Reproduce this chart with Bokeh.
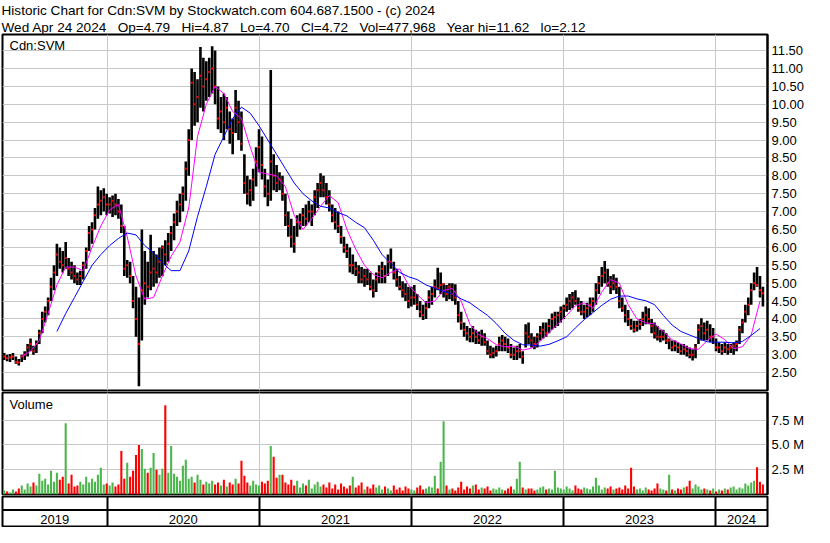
import pandas as pd
from bokeh.plotting import figure
from bokeh.models import Range1d, FixedTicker, Label, Title, Span, ColumnDataSource, NumeralTickFormatter
from bokeh.layouts import column
from bokeh.embed import file_html
from bokeh.resources import INLINE
from bokeh.core.properties import value

FONT = "Liberation Sans"

# ---------------- data (weekly bars) ----------------
first_bar = "2019-04-29"
last_bar = "2024-04-24"
view_start = "2019-04-25"
view_end = "2024-05-05"

high = [3.05, 3.0, 3.02, 3.05, 2.95, 2.88, 3.0, 3.1, 3.3, 3.45,
        3.25, 3.4, 3.7, 4.2, 4.35, 4.6, 5.15, 5.5, 6.1, 6.0,
        5.9, 6.15, 5.7, 5.6, 5.5, 5.3, 5.35, 5.6, 6.0, 6.6,
        6.7, 7.1, 7.7, 7.6, 7.65, 7.5, 7.4, 7.45, 7.5, 7.35,
        7.2, 6.6, 5.65, 5.6, 5.2, 4.9, 4.6, 6.5, 5.9, 5.6,
        6.35, 5.9, 5.8, 6.0, 6.05, 6.2, 6.4, 6.6, 6.95, 7.3,
        7.5, 7.7, 8.4, 9.3, 11.0, 10.9, 10.7, 11.6, 11.3, 11.2,
        11.3, 11.62, 11.5, 10.5, 10.2, 10.3, 10.2, 9.8, 9.6, 10.4,
        10.1, 9.8, 8.6, 8.0, 7.9, 8.2, 8.8, 9.3, 9.1, 8.2,
        7.9, 10.96, 8.6, 8.3, 8.1, 8.0, 7.5, 7.0, 6.8, 6.6,
        6.9, 6.95, 7.1, 7.2, 7.3, 7.2, 7.6, 7.8, 8.07, 8.0,
        7.8, 7.6, 7.2, 7.1, 7.0, 6.6, 6.3, 6.1, 6.0, 5.8,
        5.6, 5.5, 5.45, 5.4, 5.4, 5.3, 5.1, 5.3, 5.5, 5.6,
        5.5, 5.8, 5.97, 5.6, 5.4, 5.2, 5.05, 5.0, 4.9, 4.9,
        4.95, 4.7, 4.5, 4.4, 4.5, 4.8, 4.9, 5.1, 5.43, 5.3,
        5.0, 4.95, 5.0, 5.0, 4.97, 4.5, 4.2, 3.9, 3.8, 3.75,
        3.8, 3.7, 3.65, 3.7, 3.6, 3.4, 3.25, 3.2, 3.25, 3.5,
        3.55, 3.5, 3.45, 3.3, 3.2, 3.25, 3.3, 3.1, 3.85, 3.9,
        3.6, 3.5, 3.6, 3.8, 3.9, 3.9, 4.0, 4.15, 4.2, 4.2,
        4.35, 4.4, 4.6, 4.7, 4.75, 4.8, 4.6, 4.5, 4.4, 4.45,
        4.6, 4.6, 5.0, 5.2, 5.45, 5.62, 5.4, 5.2, 5.25, 5.15,
        4.9, 4.6, 4.4, 4.25, 4.0, 3.95, 3.95, 4.0, 4.2, 4.35,
        4.3, 4.0, 3.9, 3.8, 3.7, 3.7, 3.6, 3.45, 3.4, 3.4,
        3.35, 3.3, 3.3, 3.25, 3.2, 3.15, 3.3, 3.85, 4.02, 3.9,
        3.95, 3.85, 3.75, 3.45, 3.35, 3.3, 3.35, 3.3, 3.3, 3.35,
        3.4, 3.8, 4.0, 4.4, 4.6, 5.0, 5.3, 5.45, 5.2, 4.9]

low = [2.85, 2.82, 2.8, 2.85, 2.75, 2.7, 2.8, 2.85, 2.95, 3.1,
       3.0, 3.05, 3.3, 3.6, 3.9, 4.1, 4.5, 4.8, 5.2, 5.4,
       5.3, 5.4, 5.2, 5.1, 5.0, 4.95, 4.95, 5.1, 5.4, 5.9,
       6.1, 6.5, 6.8, 6.9, 7.0, 6.9, 6.95, 6.85, 6.9, 6.8,
       6.4, 5.2, 5.15, 5.0, 4.3, 3.5, 2.12, 3.4, 4.4, 4.6,
       4.8, 4.9, 5.0, 5.15, 5.2, 5.5, 5.6, 5.9, 6.2, 6.6,
       6.7, 7.0, 7.3, 8.0, 9.0, 9.4, 9.5, 9.9, 9.8, 10.1,
       10.2, 10.3, 10.0, 9.3, 9.2, 9.0, 9.3, 8.9, 8.6, 9.2,
       9.0, 8.7, 7.5, 7.2, 7.15, 7.3, 7.7, 8.1, 7.9, 7.4,
       7.15, 7.3, 7.6, 7.55, 7.6, 7.3, 6.6, 6.3, 6.0, 5.85,
       6.3, 6.5, 6.6, 6.6, 6.7, 6.6, 6.9, 7.1, 7.4, 7.4,
       7.2, 7.0, 6.7, 6.5, 6.4, 6.1, 5.85, 5.7, 5.3, 5.25,
       5.2, 5.0, 5.0, 4.9, 4.95, 4.8, 4.6, 4.75, 5.0, 5.0,
       5.0, 5.2, 5.4, 5.1, 4.9, 4.8, 4.6, 4.5, 4.3, 4.35,
       4.4, 4.25, 4.05, 3.97, 4.0, 4.3, 4.4, 4.6, 4.8, 4.7,
       4.6, 4.5, 4.55, 4.5, 4.4, 3.9, 3.7, 3.5, 3.4, 3.35,
       3.35, 3.3, 3.3, 3.25, 3.25, 3.0, 2.9, 2.9, 2.95, 3.1,
       3.1, 3.1, 3.05, 2.9, 2.85, 2.85, 2.9, 2.75, 3.2, 3.3,
       3.2, 3.15, 3.2, 3.4, 3.45, 3.5, 3.6, 3.7, 3.75, 3.8,
       3.9, 4.0, 4.2, 4.25, 4.3, 4.4, 4.2, 4.1, 4.0, 4.05,
       4.1, 4.2, 4.4, 4.7, 4.9, 5.0, 4.9, 4.7, 4.8, 4.7,
       4.3, 4.2, 3.9, 3.8, 3.7, 3.62, 3.65, 3.7, 3.8, 3.85,
       3.85, 3.6, 3.45, 3.4, 3.35, 3.4, 3.3, 3.15, 3.1, 3.1,
       3.05, 3.0, 3.0, 2.95, 2.9, 2.84, 2.9, 3.3, 3.4, 3.4,
       3.4, 3.35, 3.3, 3.1, 3.05, 3.0, 3.05, 3.0, 3.05, 3.0,
       3.1, 3.3, 3.6, 3.9, 4.1, 4.4, 4.8, 4.9, 4.6, 4.35]

close = [2.95, 2.9, 2.92, 2.95, 2.8, 2.78, 2.95, 3.0, 3.2, 3.3,
         3.1, 3.3, 3.6, 4.0, 4.2, 4.5, 4.9, 5.3, 5.8, 5.6,
         5.5, 5.7, 5.4, 5.3, 5.2, 5.1, 5.2, 5.5, 5.9, 6.4,
         6.5, 6.9, 7.2, 7.3, 7.4, 7.2, 7.2, 7.3, 7.2, 7.0,
         6.6, 5.4, 5.5, 5.2, 4.5, 4.0, 3.3, 4.8, 5.0, 4.9,
         5.3, 5.4, 5.3, 5.6, 6.0, 5.8, 6.1, 6.4, 6.7, 7.0,
         7.2, 7.5, 8.2, 9.0, 10.6, 10.0, 10.2, 10.8, 10.5, 10.7,
         10.9, 11.0, 10.5, 9.6, 9.8, 9.5, 9.9, 9.3, 9.2, 9.9,
         9.5, 8.9, 7.8, 7.5, 7.6, 7.9, 8.4, 8.8, 8.3, 7.7,
         7.5, 8.4, 8.0, 7.8, 7.9, 7.5, 6.9, 6.6, 6.3, 6.1,
         6.7, 6.7, 6.9, 6.8, 7.0, 7.0, 7.4, 7.6, 7.8, 7.6,
         7.4, 7.2, 6.9, 6.7, 6.6, 6.3, 6.0, 5.9, 5.5, 5.5,
         5.4, 5.3, 5.1, 5.2, 5.1, 4.9, 4.8, 5.1, 5.3, 5.4,
         5.2, 5.6, 5.6, 5.3, 5.1, 4.9, 4.8, 4.7, 4.5, 4.6,
         4.6, 4.4, 4.2, 4.1, 4.3, 4.6, 4.7, 4.9, 4.85, 4.95,
         4.98, 4.7, 4.9, 4.7, 4.6, 4.1, 3.9, 3.7, 3.6, 3.5,
         3.6, 3.5, 3.4, 3.5, 3.35, 3.1, 3.0, 3.05, 3.1, 3.3,
         3.4, 3.3, 3.2, 3.0, 3.0, 3.1, 3.1, 2.95, 3.6, 3.5,
         3.4, 3.3, 3.5, 3.6, 3.7, 3.6, 3.8, 4.0, 4.05, 4.1,
         4.2, 4.3, 4.4, 4.5, 4.6, 4.5, 4.3, 4.2, 4.2, 4.3,
         4.4, 4.5, 4.8, 5.0, 5.2, 5.3, 5.0, 4.9, 5.0, 4.9,
         4.5, 4.3, 4.1, 4.0, 3.8, 3.7, 3.8, 3.85, 4.0, 4.1,
         4.0, 3.8, 3.6, 3.5, 3.5, 3.5, 3.4, 3.4, 3.2, 3.25,
         3.2, 3.1, 3.15, 3.1, 3.0, 3.0, 3.2, 3.7, 3.8, 3.6,
         3.7, 3.5, 3.5, 3.2, 3.2, 3.1, 3.2, 3.15, 3.2, 3.25,
         3.3, 3.7, 3.9, 4.2, 4.4, 4.8, 5.0, 4.95, 4.8, 4.72]

volume_m = [0.4, 0.3, 0.2, 0.5, 0.3, 0.6, 0.9, 0.5, 1.1, 0.8,
            1.2, 0.9, 2.1, 1.4, 1.6, 1.0, 2.4, 1.3, 2.2, 1.5,
            1.8, 7.2, 1.1, 2.0, 0.8, 0.9, 1.3, 1.0, 1.8, 1.2,
            1.6, 1.3, 2.0, 2.7, 1.0, 1.1, 0.9, 1.2, 0.8, 1.0,
            4.4, 1.6, 3.2, 1.8, 2.4, 4.0, 5.0, 4.6, 2.6, 2.2,
            2.7, 4.2, 2.5, 2.0, 2.6, 9.0, 2.2, 4.9, 2.1, 1.8,
            1.4, 2.9, 3.5, 1.6, 1.8, 1.2, 2.0, 1.5, 1.0, 1.3,
            1.1, 1.4, 1.0, 1.2, 0.9, 1.5, 0.8, 1.2, 1.0, 1.6,
            1.1, 3.4, 1.9, 1.2, 0.9, 1.4, 1.0, 0.9, 1.3, 1.1,
            1.4, 4.9, 3.8, 1.7, 2.0, 2.0, 1.2, 1.0, 1.5, 0.9,
            1.4, 0.7, 1.1, 0.9, 1.5, 0.6, 1.0, 1.3, 0.8, 1.0,
            0.7, 1.2, 0.6, 1.0, 0.5, 1.1, 0.8, 0.6, 0.9, 1.8,
            0.7, 0.9, 1.2, 0.5, 0.8, 0.6, 1.0, 0.7, 0.9, 0.5,
            0.8, 0.6, 0.4, 0.9, 0.5, 0.7, 0.4, 0.8, 0.6, 0.5,
            0.4, 0.7, 0.9, 0.5, 0.6, 0.8, 0.7, 1.9, 0.6, 3.3,
            7.4, 0.9, 0.5, 0.6, 0.4, 0.7, 1.3, 0.5, 0.8, 0.6,
            0.9, 1.0, 0.5, 0.7, 0.6, 0.8, 0.4, 0.6, 0.5, 0.7,
            0.5, 0.4, 0.6, 0.8, 0.5, 1.6, 3.3, 0.7, 0.5, 0.6,
            0.6, 0.4, 0.5, 0.7, 0.8, 0.5, 0.6, 0.5, 2.4, 0.7,
            0.6, 0.5, 0.8, 0.6, 0.4, 0.9, 0.6, 0.5, 0.7, 0.6,
            0.5, 0.8, 1.7, 0.9, 0.5, 0.7, 0.6, 0.8, 0.5, 0.6,
            0.7, 0.5, 0.9, 0.6, 2.7, 0.8, 0.5, 0.6, 0.4, 0.7,
            0.5, 0.4, 0.6, 1.1, 0.6, 0.5, 0.4, 2.0, 0.5, 0.4,
            0.6, 0.5, 0.7, 0.8, 1.4, 0.6, 1.0, 0.8, 0.5, 0.6,
            0.5, 0.4, 0.6, 0.3, 0.5, 0.4, 0.6, 0.5, 0.7, 0.8,
            0.5, 0.7, 0.6, 1.1, 0.9, 1.2, 1.4, 2.75, 1.3, 1.0]

# moving averages, one value every 3rd weekly bar
ma_short_first_bar = 6
ma_short = [2.95, 3.1, 3.4, 4.15, 4.95, 5.45, 5.45, 5.35, 6.0, 6.6,
            7.05, 7.2, 6.3, 5.2, 4.55, 4.6, 5.2, 5.75, 6.15, 7.1,
            9.1, 10.0, 10.5, 10.3, 9.8, 9.6, 8.8, 8.1, 8.05, 8.0,
            7.7, 6.9, 6.5, 6.8, 7.15, 7.45, 7.25, 6.5, 5.95, 5.5,
            5.24, 5.15, 5.3, 5.4, 4.95, 4.68, 4.45, 4.5, 4.8, 4.85,
            4.5, 3.85, 3.56, 3.45, 3.28, 3.22, 3.24, 3.13, 3.18, 3.38,
            3.62, 3.86, 4.1, 4.37, 4.45, 4.3, 4.75, 5.1, 5.0, 4.4,
            4.0, 3.89, 3.86, 3.65, 3.42, 3.3, 3.17, 3.15, 3.4, 3.58,
            3.42, 3.17, 3.22, 3.55, 4.5]
ma_long_first_bar = 18
ma_long = [3.65, 4.15, 4.6, 5.05, 5.5, 5.8, 6.05, 6.25, 6.4, 6.35,
           6.05, 5.85, 5.57, 5.35, 5.35, 5.9, 6.86, 7.7, 8.6, 9.1,
           9.6, 9.92, 9.75, 9.4, 9.0, 8.6, 8.2, 7.8, 7.5, 7.3,
           7.15, 7.1, 6.97, 6.88, 6.7, 6.55, 6.2, 5.8, 5.55, 5.3,
           5.18, 5.1, 4.95, 4.86, 4.77, 4.7, 4.56, 4.45, 4.27, 4.1,
           3.87, 3.6, 3.4, 3.28, 3.27, 3.24, 3.29, 3.39, 3.5, 3.75,
           3.98, 4.18, 4.38, 4.55, 4.64, 4.64, 4.56, 4.51, 4.4, 4.1,
           3.83, 3.65, 3.55, 3.45, 3.36, 3.35, 3.35, 3.33, 3.37, 3.54,
           3.73]

years = [2019, 2020, 2021, 2022, 2023, 2024]
price_ticks = [2.5, 3.0, 3.5, 4.0, 4.5, 5.0, 5.5, 6.0, 6.5, 7.0, 7.5, 8.0,
               8.5, 9.0, 9.5, 10.0, 10.5, 11.0, 11.5]
vol_ticks = [2.5, 5.0, 7.5]
vol_tick_labels = ["2.5 M", "5.0 M", "7.5 M"]

header_line1 = "Historic Chart for Cdn:SVM by Stockwatch.com 604.687.1500 - (c) 2024"
header_line2 = "Wed Apr 24 2024   Op=4.79   Hi=4.87   Lo=4.70   Cl=4.72   Vol=477,968   Year hi=11.62   lo=2.12"

# ---------------- derived ----------------
dates = pd.date_range(first_bar, last_bar, periods=len(close))
up = [True] + [close[i] >= close[i - 1] for i in range(1, len(close))]
vol_colors = ["#4cb64c" if u else "#ff0000" for u in up]
src = ColumnDataSource(dict(date=dates, high=high, low=low, close=close,
                            vol=volume_m, vcol=vol_colors))
short_dates = dates[ma_short_first_bar::3][:len(ma_short)]
long_dates = dates[ma_long_first_bar::3][:len(ma_long)]

xs = pd.Timestamp(view_start)
xe = pd.Timestamp(view_end)
xr = Range1d(start=xs, end=xe)
year_starts = [pd.Timestamp(f"{y}-01-01") for y in years]
year_ms = [t.value // 10**6 for t in year_starts if xs < t < xe]
label_x = []
for y in years:
    a = max(pd.Timestamp(f"{y}-01-01"), xs)
    b = min(pd.Timestamp(f"{y + 1}-01-01"), xe)
    label_x.append(a + (b - a) / 2)

W = 814
RB = 47
GRID = "#c8c8c8"
NBSP = "\u00a0"


def make_fig(height, y_range, right_axis=True, top=1, bottom=1):
    f = figure(width=W, height=height, x_axis_type="datetime", x_range=xr, y_range=y_range,
               output_backend="svg", toolbar_location=None, x_axis_location=None,
               y_axis_location="right" if right_axis else None,
               min_border_left=2, min_border_right=RB, min_border_top=top, min_border_bottom=bottom,
               background_fill_color="white", border_fill_color="white")
    f.outline_line_color = "black"
    f.outline_line_width = 2
    f.xgrid.ticker = FixedTicker(ticks=year_ms)
    f.xgrid.grid_line_color = GRID
    f.xgrid.grid_line_width = 1
    if right_axis:
        ax = f.yaxis[0]
        ax.axis_line_color = "black"
        ax.axis_line_width = 2
        ax.major_tick_out = 0
        ax.major_tick_in = 0
        ax.minor_tick_out = 0
        ax.minor_tick_in = 0
        ax.major_label_standoff = 4
        ax.major_label_text_font = FONT
        ax.major_label_text_font_size = "13px"
        ax.major_label_text_color = "black"
        f.ygrid.grid_line_color = GRID
        f.ygrid.grid_line_width = 1
    return f


# ---------------- price panel ----------------
p1 = make_fig(391, Range1d(2.0, 11.95), top=1)
p1.yaxis[0].ticker = FixedTicker(ticks=price_ticks)
p1.yaxis[0].formatter = NumeralTickFormatter(format="0.00")
for line in (header_line2, header_line1):
    p1.add_layout(Title(text=line.replace("  ", NBSP + NBSP), text_font=FONT,
                        text_font_size="13.6px", text_font_style="normal",
                        text_color="black", align="left", offset=-1, standoff=0), "above")
p1.segment(x0="date", y0="low", x1="date", y1="high", source=src,
           line_color="black", line_width=2.6)
p1.scatter(x="date", y="close", source=src, marker="square", size=2,
           line_color=None, fill_color="#ff0000")
p1.line(list(short_dates), ma_short, line_color="#ff00ff", line_width=1)
p1.line(list(long_dates), ma_long, line_color="#0000ff", line_width=1)
p1.add_layout(Label(x=xs, y=11.95, x_offset=7, y_offset=-3, text="Cdn:SVM",
                    text_baseline="top", text_font=FONT, text_font_size="13px",
                    text_color="black"))

# ---------------- volume panel ----------------
p2 = make_fig(104, Range1d(0, 10.3), top=1)
p2.yaxis[0].ticker = FixedTicker(ticks=vol_ticks)
p2.yaxis[0].major_label_overrides = {t: s for t, s in zip(vol_ticks, vol_tick_labels)}
p2.vbar(x="date", top="vol", bottom=0, width=5 * 86400000, source=src,
        fill_color="vcol", line_color=None)
p2.add_layout(Label(x=xs, y=10.3, x_offset=7, y_offset=-4, text="Volume",
                    text_baseline="top", text_font=FONT, text_font_size="13px",
                    text_color="black"))

# ---------------- year strip ----------------
p3 = make_fig(32, Range1d(0, 2), right_axis=False, top=1, bottom=1)
p3.xgrid.grid_line_color = "black"
p3.xgrid.grid_line_width = 2
p3.ygrid.grid_line_color = None
p3.add_layout(Span(location=1.1, dimension="width", line_color="black", line_width=2))
p3.text(x=label_x, y=[0.5] * len(label_x), text=[str(y) for y in years],
        text_align="center", text_baseline="middle", text_font=value(FONT),
        text_font_size="13px", text_color="black")

layout = column(p1, p2, p3, spacing=0)
open("out.html", "w").write(file_html(layout, INLINE))
